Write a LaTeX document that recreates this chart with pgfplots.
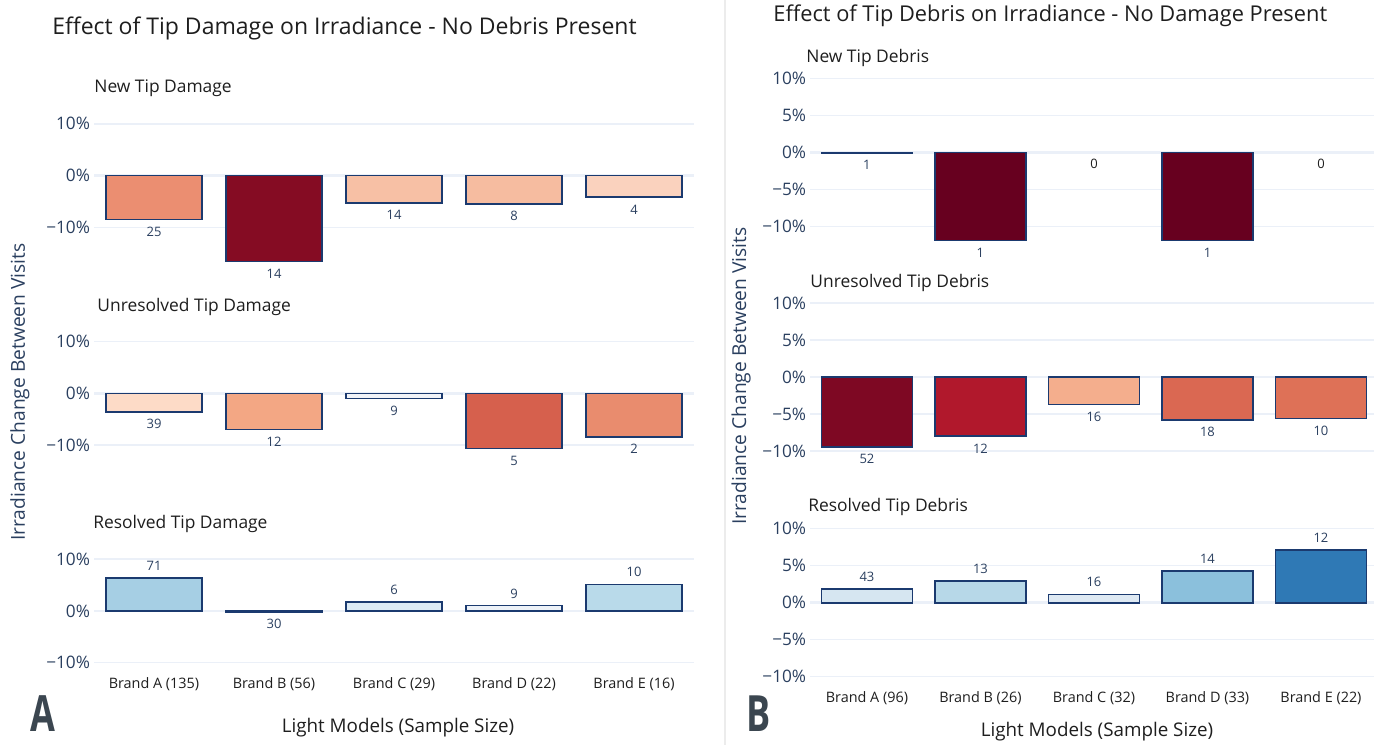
\documentclass[border=0pt]{standalone}
\usepackage{pgfplots}
\pgfplotsset{compat=1.18}
\usepackage{fontspec}
\setmainfont{Open Sans}
\definecolor{gridc}{HTML}{EBF0F8}
\definecolor{tickc}{HTML}{2A3F5F}
\definecolor{edgec}{HTML}{1B3A6F}
\definecolor{ttl}{HTML}{1E1E1E}
\definecolor{letc}{HTML}{3B4650}
% bar colours
\definecolor{a1a}{HTML}{EB8E71}\definecolor{a1b}{HTML}{850C23}\definecolor{a1c}{HTML}{F7C0A5}\definecolor{a1d}{HTML}{F6BCA0}\definecolor{a1e}{HTML}{FAD2BE}
\definecolor{a2a}{HTML}{FDDBC7}\definecolor{a2b}{HTML}{F3A784}\definecolor{a2c}{HTML}{F2F4F8}\definecolor{a2d}{HTML}{D6604D}\definecolor{a2e}{HTML}{E98C6E}
\definecolor{a3a}{HTML}{A6CFE4}\definecolor{a3b}{HTML}{D0E3EF}\definecolor{a3c}{HTML}{DCEAF4}\definecolor{a3d}{HTML}{EDF2F8}\definecolor{a3e}{HTML}{B9DAEA}
\definecolor{b1a}{HTML}{F4F6FA}\definecolor{b1b}{HTML}{67001F}
\definecolor{b2a}{HTML}{7E0823}\definecolor{b2b}{HTML}{B1182C}\definecolor{b2c}{HTML}{F4AE8D}\definecolor{b2d}{HTML}{DA6852}\definecolor{b2e}{HTML}{DE7157}
\definecolor{b3a}{HTML}{D6E6F1}\definecolor{b3b}{HTML}{B7D8E8}\definecolor{b3c}{HTML}{DEE9F3}\definecolor{b3d}{HTML}{8BC0DC}\definecolor{b3e}{HTML}{2F79B5}
\pgfplotsset{
  panel/.style={scale only axis, axis line style={draw=none}, major tick length=0pt,
    xmin=-0.5, xmax=4.5, ymajorgrids, grid style={gridc, line width=0.7pt}, clip=false,
    xtick=\empty,
    extra y ticks={0}, extra y tick labels={}, extra y tick style={grid style={gridc, line width=1.3pt}},
    yticklabel style={font=\fontsize{8.6}{10}\selectfont, text=tickc, xshift=1.5pt},
    xticklabel style={font=\fontsize{7.2}{9}\selectfont, text=ttl},
    /pgf/number format/assume math mode=true},
  pA/.style={panel, x=60pt, y=2.585pt, ytick={-10,0,10}, yticklabels={−10\%,0\%,10\%}},
  pB/.style={panel, x=56.75pt, y=3.7pt, ytick={-10,-5,0,5,10}, yticklabels={−10\%,−5\%,0\%,5\%,10\%}},
  br/.style 2 args={ybar, bar shift=0pt, bar width=0.8, draw=edgec, line width=0.8pt, fill=#1,
    nodes near coords={#2},
    every node near coord/.append style={font=\fontsize{6.5}{8}\selectfont, text=tickc}},
}
\begin{document}
\begin{tikzpicture}
\path[use as bounding box] (0,0) rectangle (687pt,-372.5pt);
\draw[gray!15, line width=0.6pt] (362.5pt,0) -- (362.5pt,-372.5pt);

% ---------- Panel A ----------
\begin{axis}[pA, anchor=south west, at={(47pt,-131.7pt)}, ymin=-17, ymax=12]
\addplot[br={a1a}{25}] coordinates {(0,-8.5)};
\addplot[br={a1b}{14}] coordinates {(1,-16.6)};
\addplot[br={a1c}{14}] coordinates {(2,-5.3)};
\addplot[br={a1d}{8}] coordinates {(3,-5.5)};
\addplot[br={a1e}{4}] coordinates {(4,-4.2)};
\end{axis}
\begin{axis}[pA, anchor=south west, at={(47pt,-226.4pt)}, ymin=-11.5, ymax=12]
\addplot[br={a2a}{39}] coordinates {(0,-3.6)};
\addplot[br={a2b}{12}] coordinates {(1,-7.0)};
\addplot[br={a2c}{9}] coordinates {(2,-1.0)};
\addplot[br={a2d}{5}] coordinates {(3,-10.7)};
\addplot[br={a2e}{2}] coordinates {(4,-8.4)};
\end{axis}
\begin{axis}[pA, anchor=south west, at={(47pt,-335.15pt)}, ymin=-11.5, ymax=12,
  xtick={0,1,2,3,4}, xticklabels={Brand A (135),Brand B (56),Brand C (29),Brand D (22),Brand E (16)}]
\addplot[br={a3a}{71}] coordinates {(0,6.3)};
\addplot[br={a3b}{30}] coordinates {(1,-0.2)};
\addplot[br={a3c}{6}] coordinates {(2,1.7)};
\addplot[br={a3d}{9}] coordinates {(3,1.0)};
\addplot[br={a3e}{10}] coordinates {(4,5.1)};
\end{axis}

% ---------- Panel B ----------
\begin{axis}[pB, anchor=south west, at={(405.1pt,-122.4pt)}, ymin=-12.5, ymax=11]
\addplot[br={b1a}{1}] coordinates {(0,-0.1)};
\addplot[br={b1b}{1}] coordinates {(1,-11.9)};
\addplot[ybar, bar shift=0pt, bar width=0.8, draw=none, fill=none, nodes near coords={0}, nodes near coords align={below},
  every node near coord/.append style={font=\fontsize{6.5}{8}\selectfont, text=ttl}] coordinates {(2,0)};
\addplot[br={b1b}{1}] coordinates {(3,-11.9)};
\addplot[ybar, bar shift=0pt, bar width=0.8, draw=none, fill=none, nodes near coords={0}, nodes near coords align={below},
  every node near coord/.append style={font=\fontsize{6.5}{8}\selectfont, text=ttl}] coordinates {(4,0)};
\end{axis}
\begin{axis}[pB, anchor=south west, at={(405.1pt,-231.05pt)}, ymin=-11.5, ymax=11]
\addplot[br={b2a}{52}] coordinates {(0,-9.45)};
\addplot[br={b2b}{12}] coordinates {(1,-8.0)};
\addplot[br={b2c}{16}] coordinates {(2,-3.7)};
\addplot[br={b2d}{18}] coordinates {(3,-5.8)};
\addplot[br={b2e}{10}] coordinates {(4,-5.6)};
\end{axis}
\begin{axis}[pB, anchor=south west, at={(405.1pt,-342.05pt)}, ymin=-11, ymax=11,
  xtick={0,1,2,3,4}, xticklabels={Brand A (96),Brand B (26),Brand C (32),Brand D (33),Brand E (22)}]
\addplot[br={b3a}{43}] coordinates {(0,1.85)};
\addplot[br={b3b}{13}] coordinates {(1,2.97)};
\addplot[br={b3c}{16}] coordinates {(2,1.13)};
\addplot[br={b3d}{14}] coordinates {(3,4.28)};
\addplot[br={b3e}{12}] coordinates {(4,7.1)};
\end{axis}

% ---------- Texts ----------
\node[anchor=west, text=ttl, font=\fontsize{11.5}{13}\selectfont, inner sep=0] at (26pt,-14pt) {Effect of Tip Damage on Irradiance - No Debris Present};
\node[anchor=west, text=ttl, font=\fontsize{10.9}{12}\selectfont, inner sep=0] at (386.5pt,-8pt) {Effect of Tip Debris on Irradiance - No Damage Present};
\begin{scope}[every node/.style={anchor=west, text=ttl, font=\fontsize{8.7}{10}\selectfont, inner sep=0}]
\node at (47pt,-44pt) {New Tip Damage};
\node at (48.5pt,-153.5pt) {Unresolved Tip Damage};
\node at (46.5pt,-262pt) {Resolved Tip Damage};
\node at (403pt,-29pt) {New Tip Debris};
\node at (405pt,-141.5pt) {Unresolved Tip Debris};
\node at (404pt,-253.5pt) {Resolved Tip Debris};
\end{scope}
\node[rotate=90, text=tickc, font=\fontsize{9.6}{11}\selectfont, inner sep=0] at (10pt,-196pt) {Irradiance Change Between Visits};
\node[rotate=90, text=tickc, font=\fontsize{9.6}{11}\selectfont, inner sep=0] at (370.5pt,-188pt) {Irradiance Change Between Visits};
\node[text=ttl, font=\fontsize{9.4}{11}\selectfont, inner sep=0] at (199pt,-364pt) {Light Models (Sample Size)};
\node[text=ttl, font=\fontsize{9.4}{11}\selectfont, inner sep=0] at (548.5pt,-366pt) {Light Models (Sample Size)};
\node[text=letc, font=\fontsize{25}{27}\selectfont\bfseries, inner sep=0, anchor=base] at (21.5pt,-365.5pt) {\scalebox{0.72}[1]{A}};
\node[text=letc, font=\fontsize{25}{27}\selectfont\bfseries, inner sep=0, anchor=base] at (379.5pt,-365.5pt) {\scalebox{0.72}[1]{B}};
\end{tikzpicture}
\end{document}
